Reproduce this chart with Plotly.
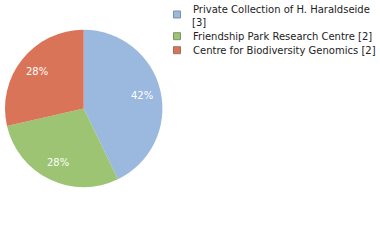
import math
import plotly.graph_objects as go

labels = ["Private Collection of H. Haraldseide", "Friendship Park Research Centre", "Centre for Biodiversity Genomics"]
legend_lines = [["Private Collection of H. Haraldseide", "[3]"],
                ["Friendship Park Research Centre [2]"],
                ["Centre for Biodiversity Genomics [2]"]]
values = [3, 2, 2]
colors = ["#9bb8de", "#9cc473", "#da7458"]
borders = ["#7f8fa6", "#7f9366", "#a0705f"]

W, H = 380, 240
dom_x = [5 / W, 162.4 / W]
dom_y = [1 - 187.6 / H, 1 - 29.3 / H]

fig = go.Figure(go.Pie(
    labels=labels, values=values, sort=False, direction="clockwise", rotation=0,
    marker=dict(colors=colors, line=dict(width=0)),
    textinfo="none", hoverinfo="none", showlegend=False,
    domain=dict(x=dom_x, y=dom_y),
))

# percentage labels placed along each slice's mid-angle
total = sum(values)
cx = (dom_x[0] + dom_x[1]) / 2 * W
cy = (1 - (dom_y[0] + dom_y[1]) / 2) * H
r = (dom_x[1] - dom_x[0]) * W / 2
cum = 0
annotations = []
for v in values:
    mid = (cum + v / 2) / total * 2 * math.pi
    cum += v
    px = cx + 0.76 * r * math.sin(mid)
    py = cy - 0.76 * r * math.cos(mid)
    annotations.append(dict(
        x=px / W, y=1 - py / H, xref="paper", yref="paper", showarrow=False,
        xanchor="center", yanchor="middle",
        text=f"{int(v / total * 100)}%", font=dict(family="DejaVu Sans", size=10, color="white"),
    ))

# legend
line_step = 13.7
first_line = 8.7
marker_gap = [14.5, 36.2, 50.2]
line_y = first_line
for i, (lines, c, b) in enumerate(zip(legend_lines, colors, borders)):
    ym = marker_gap[i]
    fig.add_shape(type="rect", xref="paper", yref="paper",
                  x0=173.5 / W, x1=180.5 / W, y0=1 - (ym + 3.5) / H, y1=1 - (ym - 3.5) / H,
                  fillcolor=c, line=dict(color=b, width=1))
    for t in lines:
        annotations.append(dict(
            x=190.5 / W, y=1 - (line_y + 0.5) / H, xref="paper", yref="paper", showarrow=False,
            xanchor="left", yanchor="middle", align="left", text=t,
            font=dict(family="DejaVu Sans", size=10, color="#222222"),
        ))
        line_y += line_step

fig.update_layout(width=W, height=H, margin=dict(l=0, r=0, t=0, b=0),
                  paper_bgcolor="white", plot_bgcolor="white", annotations=annotations)
fig.write_html("out.html")
